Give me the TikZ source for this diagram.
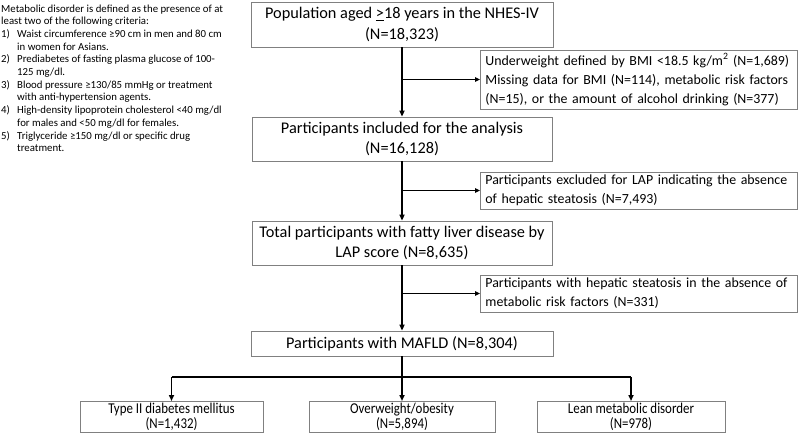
\documentclass[tikz,border=0pt]{standalone}
\usepackage{fontspec}
\setmainfont{Carlito}
\newfontfamily\condfont[FakeStretch=0.86]{Carlito}
\usetikzlibrary{arrows.meta}
\begin{document}
\begin{tikzpicture}[x=1pt,y=-1pt,
  mainbox/.style={draw=black!50, line width=0.8pt, inner sep=0pt, align=center,
    font=\fontsize{16.3}{20.5}\selectfont},
  exbox/.style={draw=black!50, line width=0.8pt, inner xsep=5pt, inner ysep=0pt,
    text width=307pt, align=left, anchor=west, font=\fontsize{13.9}{19}\selectfont},
  leafbox/.style={draw=black!50, line width=0.8pt, inner sep=0pt, align=center,
    minimum height=31pt, font=\condfont\fontsize{15}{14.5}\selectfont},
  spine/.style={line width=1.7pt, draw=black},
  arr/.style={line width=1.7pt, -{Triangle[length=6pt,width=5pt]}},
  sidearr/.style={line width=1.2pt, -{Triangle[length=5pt,width=4.5pt]}}
]
\useasboundingbox (0,0) rectangle (799,432);

% note
\node[anchor=north west, inner sep=0pt, font=\fontsize{10.8}{12.7}\selectfont] (note) at (1,3) {%
\begin{tabular}{@{}p{16pt}@{}l@{}}
\multicolumn{2}{@{}l@{}}{Metabolic disorder is defined as the presence of at}\\
\multicolumn{2}{@{}l@{}}{least two of the following criteria:}\\
1) & Waist circumference ≥90 cm in men and 80 cm\\
   & in women for Asians.\\
2) & Prediabetes of fasting plasma glucose of 100-\\
   & 125 mg/dl.\\
3) & Blood pressure ≥130/85 mmHg or treatment\\
   & with anti-hypertension agents.\\
4) & High-density lipoprotein cholesterol <40 mg/dl\\
   & for males and <50 mg/dl for females.\\
5) & Triglyceride ≥150 mg/dl or specific drug\\
   & treatment.
\end{tabular}};

% main column
\node[mainbox, minimum width=302pt, minimum height=45pt] (n1) at (402,24.5)
  {Population aged \underline{>}18 years in the NHES-IV\\(N=18,323)};
\node[mainbox, minimum width=300pt, minimum height=44pt] (n2) at (402,139)
  {Participants included for the analysis\\(N=16,128)};
\node[mainbox, minimum width=300pt, minimum height=44pt] (n3) at (402,243)
  {Total participants with fatty liver disease by\\LAP score (N=8,635)};
\node[mainbox, minimum width=302pt, minimum height=25pt] (n4) at (402,343.5)
  {Participants with MAFLD (N=8,304)};

% exclusion boxes
\node[exbox, minimum height=59pt] (e1) at (480,79.5)
  {\mbox{Underweight defined by BMI <18.5 kg/m\textsuperscript{2} (N=1,689)}\\
   \mbox{Missing data for BMI (N=114), metabolic risk factors}\\
   \mbox{(N=15), or the amount of alcohol drinking (N=377)}};
\node[exbox, minimum height=37pt] (e2) at (480,190.5)
  {\mbox{Participants excluded for LAP indicating the absence}\\
   \mbox{of hepatic steatosis (N=7,493)}};
\node[exbox, minimum height=37pt] (e3) at (480,293.5)
  {\mbox{Participants with hepatic steatosis in the absence of}\\
   \mbox{metabolic risk factors (N=331)}};

% leaf boxes
\node[leafbox, minimum width=183pt, anchor=north] (b1) at (171.5,401) {Type II diabetes mellitus\\(N=1,432)};
\node[leafbox, minimum width=186pt, anchor=north] (b2) at (402,401) {Overweight/obesity\\(N=5,894)};
\node[leafbox, minimum width=188pt, anchor=north] (b3) at (631,401) {Lean metabolic disorder\\(N=978)};

% connectors
\draw[arr] (n1.south) -- (n2.north);
\draw[sidearr] (n1.south |- e1.west) -- (e1.west);
\draw[arr] (n2.south) -- (n3.north);
\draw[sidearr] (n2.south |- e2.west) -- (e2.west);
\draw[arr] (n3.south) -- (n4.north);
\draw[sidearr] (n3.south |- e3.west) -- (e3.west);

\coordinate (br) at (402,377);
\draw[spine] (n4.south) -- (br);
\draw[spine] (br -| b1.north) -- (br -| b3.north);
\draw[arr] (br -| b1.north) -- (b1.north);
\draw[arr] (br) -- (b2.north);
\draw[arr] (br -| b3.north) -- (b3.north);
\end{tikzpicture}
\end{document}
